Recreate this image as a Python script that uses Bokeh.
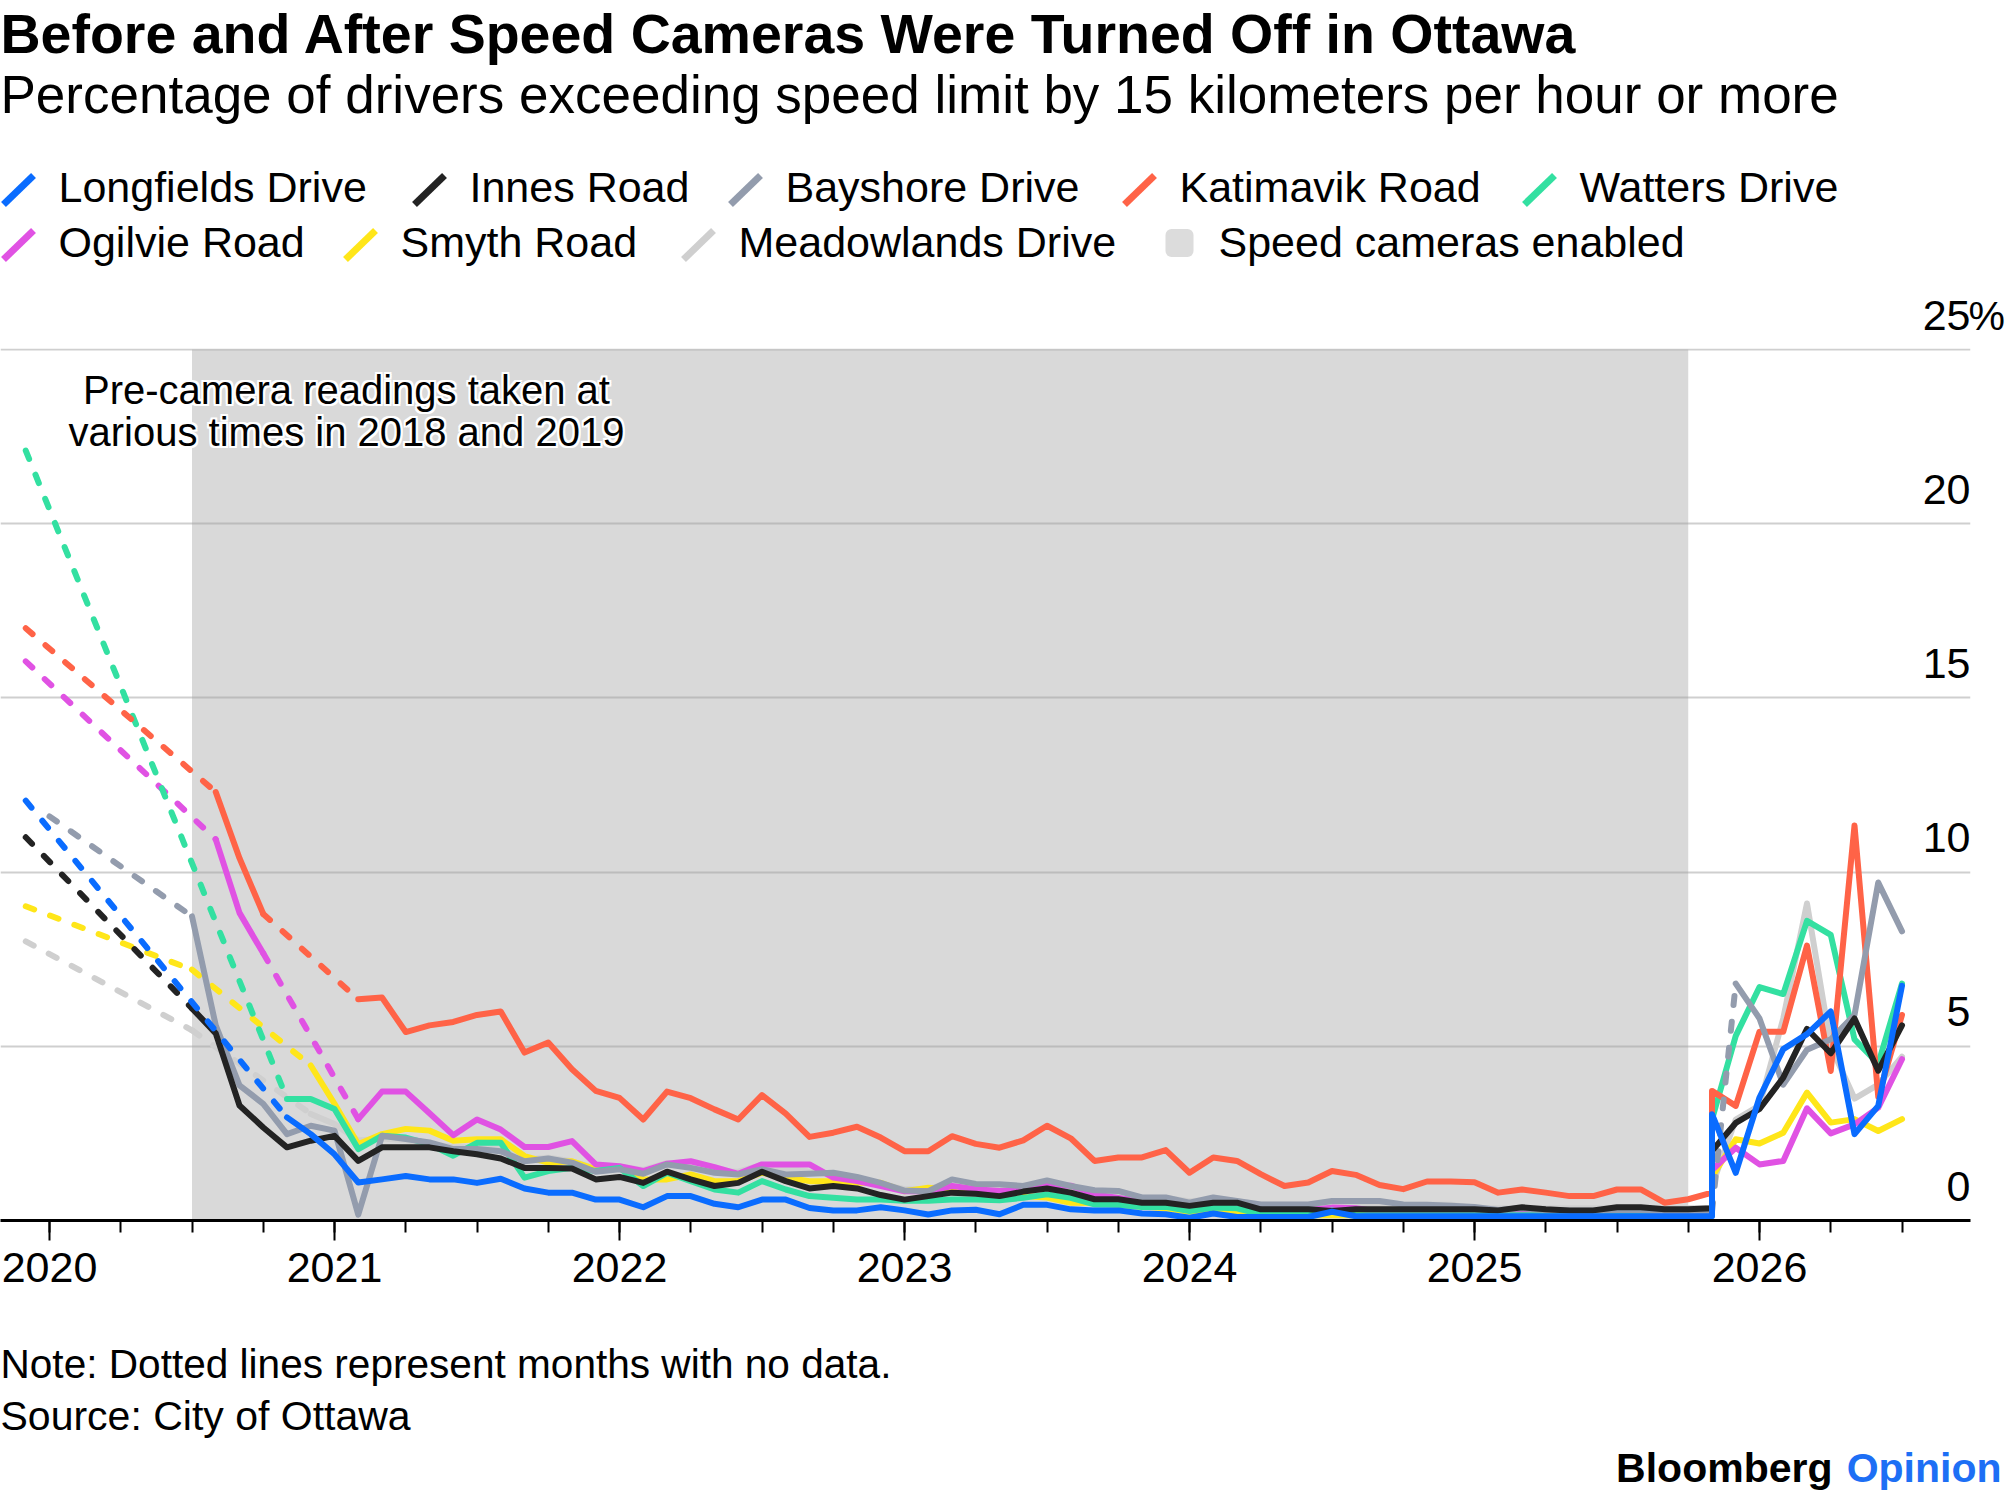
import math
from bokeh.plotting import figure
from bokeh.models import Range1d, FixedTicker, NumeralTickFormatter, LabelSet, ColumnDataSource, Rect
from bokeh.layouts import column
from bokeh.core.properties import value
from bokeh.embed import file_html
from bokeh.resources import INLINE

N = None
# ---------------- data ----------------
# monthly readings, Dec 2019 .. Nov 2025 (camera period incl. pre-camera reading at start)
months_before = ["2019-12"] + [f"{y}-{m:02d}" for y in range(2020, 2025) for m in range(1, 13)] + [f"2025-{m:02d}" for m in range(1, 12)]
# after cameras were switched off, Nov 2025 .. Jul 2026
months_after = [f"2025-{m:02d}" for m in (11, 12)] + [f"2026-{m:02d}" for m in range(1, 8)]
camera_period = ["2020-07", "2025-10"]

longfields_before = [12.05,
    N, N, N, N, N, N, N, N, N, N, 2.96, 2.48,
    1.90, 1.09, 1.18, 1.28, 1.18, 1.18, 1.08, 1.20, 0.92, 0.80, 0.80, 0.60,
    0.60, 0.38, 0.70, 0.70, 0.48, 0.38, 0.60, 0.60, 0.36, 0.29, 0.29, 0.38,
    0.29, 0.17, 0.29, 0.31, 0.18, 0.45, 0.45, 0.32, 0.29, 0.29, 0.20, 0.18,
    0.08, 0.20, 0.10, 0.10, 0.10, 0.10, 0.25, 0.12, 0.12, 0.12, 0.12, 0.12,
    0.12, 0.12, 0.12, 0.12, 0.12, 0.12, 0.12, 0.12, 0.12, 0.12, 0.12]
innes_before = [11.0,
    N, N, N, N, N, N, 6.09, 5.37, 3.30, 2.67, 2.10, 2.29,
    2.43, 1.71, 2.10, 2.10, 2.10, 1.99, 1.90, 1.78, 1.51, 1.51, 1.49, 1.18,
    1.25, 1.08, 1.40, 1.18, 0.99, 1.08, 1.40, 1.13, 0.92, 0.99, 0.92, 0.73,
    0.60, 0.70, 0.80, 0.77, 0.70, 0.83, 0.92, 0.80, 0.61, 0.61, 0.51, 0.51,
    0.42, 0.51, 0.51, 0.32, 0.32, 0.32, 0.27, 0.32, 0.32, 0.32, 0.32, 0.32,
    0.32, 0.29, 0.38, 0.32, 0.29, 0.29, 0.38, 0.38, 0.32, 0.32, 0.35]
bayshore_before = [N,
    11.6, N, N, N, N, N, 8.73, 5.60, 3.88, 3.35, 2.48, 2.72,
    2.58, 0.17, 2.43, 2.34, 2.24, 2.05, 2.05, 1.99, 1.70, 1.78, 1.66, 1.40,
    1.47, 1.34, 1.61, 1.51, 1.37, 1.32, 1.47, 1.32, 1.34, 1.37, 1.25, 1.08,
    0.86, 0.84, 1.18, 1.05, 1.04, 0.99, 1.15, 0.99, 0.87, 0.85, 0.66, 0.66,
    0.51, 0.66, 0.56, 0.46, 0.46, 0.46, 0.56, 0.56, 0.56, 0.46, 0.45, 0.42,
    0.39, 0.30, 0.35, 0.30, 0.28, 0.28, 0.30, 0.30, 0.25, 0.25, 0.25]
katimavik_before = [17.0,
    N, N, N, N, N, N, N, 12.3, 10.4, 8.8, N, N,
    N, 6.35, 6.40, 5.41, 5.60, 5.70, 5.90, 6.00, 4.82, 5.11, 4.34, 3.72,
    3.52, 2.90, 3.70, 3.51, 3.19, 2.90, 3.60, 3.07, 2.40, 2.52, 2.69, 2.38,
    1.99, 1.99, 2.42, 2.20, 2.09, 2.30, 2.72, 2.36, 1.71, 1.81, 1.81, 2.02,
    1.37, 1.81, 1.71, 1.33, 0.99, 1.09, 1.42, 1.31, 1.02, 0.90, 1.12, 1.12,
    1.10, 0.80, 0.89, 0.80, 0.70, 0.70, 0.89, 0.89, 0.51, 0.61, 0.80]
watters_before = [22.1,
    N, N, N, N, N, N, N, N, N, N, 3.49, 3.49,
    3.20, 2.05, 2.43, 2.38, 2.19, 1.86, 2.23, 2.23, 1.23, 1.42, 1.51, 1.42,
    1.51, 0.99, 1.37, 1.13, 0.89, 0.80, 1.13, 0.89, 0.70, 0.65, 0.60, 0.60,
    0.57, 0.57, 0.60, 0.60, 0.58, 0.65, 0.75, 0.65, 0.46, 0.45, 0.39, 0.39,
    0.27, 0.37, 0.35, 0.18, 0.18, 0.18, 0.29, 0.15, 0.15, 0.15, 0.15, 0.15,
    0.15, 0.15, 0.15, 0.15, 0.15, 0.15, 0.15, 0.15, 0.15, 0.15, 0.15]
ogilvie_before = [16.05,
    N, N, N, N, N, N, N, 10.94, 8.83, 7.67, N, N,
    N, 2.91, 3.70, 3.70, 3.08, 2.45, 2.90, 2.61, 2.11, 2.11, 2.28, 1.61,
    1.56, 1.42, 1.63, 1.70, 1.53, 1.34, 1.61, 1.61, 1.61, 1.23, 1.13, 0.99,
    0.84, 0.84, 0.99, 0.90, 0.85, 0.88, 1.00, 1.00, 0.75, 0.65, 0.55, 0.50,
    0.40, 0.50, 0.45, 0.30, 0.30, 0.30, 0.37, 0.35, 0.25, 0.25, 0.25, 0.25,
    0.25, 0.25, 0.25, 0.25, 0.25, 0.25, 0.25, 0.25, 0.25, 0.25, 0.25]
smyth_before = [9.02,
    N, N, N, N, N, N, 7.2, N, N, N, N, 4.45,
    3.35, 2.19, 2.48, 2.63, 2.58, 2.29, 2.33, 2.33, 1.85, 1.66, 1.70, 1.47,
    1.51, 1.18, 1.18, 1.32, 1.13, 1.13, 1.37, 1.23, 1.13, 1.13, 1.08, 1.08,
    0.84, 0.94, 0.89, 0.84, 0.75, 0.70, 0.66, 0.51, 0.50, 0.45, 0.40, 0.35,
    0.25, 0.30, 0.20, 0.15, 0.15, 0.15, 0.15, 0.15, 0.15, 0.15, 0.15, 0.15,
    0.15, 0.15, 0.15, 0.15, 0.15, 0.15, 0.15, 0.15, 0.15, 0.15, 0.15]
meadowlands_before = [8.01,
    N, N, N, N, N, N, 5.46, N, N, N, N, 3.06,
    2.77, 2.30, 2.35, 2.30, 2.20, 2.10, 2.10, 2.05, 1.75, 1.80, 1.70, 1.50,
    1.55, 1.45, 1.65, 1.55, 1.40, 1.40, 1.60, 1.50, 1.40, 1.30, 1.20, 1.05,
    0.90, 0.90, 1.10, 1.00, 0.95, 0.95, 1.10, 0.95, 0.80, 0.80, 0.65, 0.65,
    0.55, 0.60, 0.55, 0.45, 0.45, 0.45, 0.45, 0.45, 0.45, 0.45, 0.45, 0.45,
    0.35, 0.35, 0.35, 0.35, 0.35, 0.35, 0.35, 0.35, 0.35, 0.35, 0.35]

longfields_after = [3.05, 1.37, 3.53, 4.92, 5.35, 6.00, 2.48, 3.29, 6.74]
innes_after = [2.00, 2.80, 3.20, 4.10, 5.50, 4.80, 5.80, 4.30, 5.60]
bayshore_after = [N, 6.80, 5.80, 3.90, 4.90, 5.20, 5.90, 9.70, 8.30]
katimavik_after = [3.72, 3.29, 5.42, 5.42, 7.89, 4.29, 11.34, 3.55, 5.90]
watters_after = [2.90, 5.30, 6.70, 6.50, 8.60, 8.20, 5.20, 4.50, 6.80]
ogilvie_after = [1.45, 2.09, 1.61, 1.71, 3.22, 2.50, 2.76, 3.24, 4.63]
smyth_after = [1.25, 2.33, 2.21, 2.52, 3.67, 2.81, 2.91, 2.57, 2.91]
meadowlands_after = [1.00, 2.90, 3.30, 5.80, 9.10, 5.00, 3.50, 3.90, 4.70]

series_names = ["Longfields Drive", "Innes Road", "Bayshore Drive", "Katimavik Road",
                "Watters Drive", "Ogilvie Road", "Smyth Road", "Meadowlands Drive"]
series_before = [longfields_before, innes_before, bayshore_before, katimavik_before,
                 watters_before, ogilvie_before, smyth_before, meadowlands_before]
series_after = [longfields_after, innes_after, bayshore_after, katimavik_after,
                watters_after, ogilvie_after, smyth_after, meadowlands_after]
series_colors = ["#0a6cff", "#232323", "#939cad", "#ff6347", "#33e0a1", "#e052e3", "#ffe619", "#cfcfcf"]

y_ticks = [0, 5, 10, 15, 20, 25]
y_tick_labels = ["0", "5", "10", "15", "20", "25"]
year_ticks = [2020, 2021, 2022, 2023, 2024, 2025, 2026]

TITLE = "Before and After Speed Cameras Were Turned Off in Ottawa"
SUBTITLE = "Percentage of drivers exceeding speed limit by 15 kilometers per hour or more"
NOTE = "Note: Dotted lines represent months with no data."
SOURCE = "Source: City of Ottawa"
ANNOT = ["Pre-camera readings taken at", "various times in 2018 and 2019"]

# ---------------- helpers ----------------
FONT = "Liberation Sans"
W = 2005
HDR_H = 348          # header ends where the 25% gridline sits
CH_H = 972
FT_H = 178
PX_PER_UNIT = 872 / 25.03


def mx(s):
    y, m = s.split("-")
    return int(y) + (int(m) - 1) / 12.0


def blank(height, y0):
    f = figure(frame_width=W, frame_height=height, x_range=Range1d(0, W),
               y_range=Range1d(y0 + height, y0),
               toolbar_location=None, output_backend="svg",
               min_border=0, min_border_left=0, min_border_right=0,
               min_border_top=0, min_border_bottom=0,
               x_axis_location=None, y_axis_location=None, outline_line_color=None,
               background_fill_color="white", border_fill_color="white")
    f.grid.visible = False
    return f


def lab(f, x, y, s, size, color="#000000", bold=False, align="left", xo=0, yo=0):
    src = ColumnDataSource(dict(x=[x], y=[y], t=[s]))
    f.add_layout(LabelSet(x="x", y="y", text="t", source=src, text_font=value(FONT),
                          text_font_size=value(f"{size}px"),
                          text_font_style="bold" if bold else "normal", text_color=color,
                          text_baseline="alphabetic", text_align=align,
                          x_offset=xo, y_offset=yo))


# ---------------- header ----------------
hdr = blank(HDR_H, 0)
lab(hdr, 0, 52, TITLE, 55.5, bold=True)
lab(hdr, 0, 112, SUBTITLE, 53)

legend_pos = [(58, 201), (469, 201), (785, 201), (1179, 201), (1579, 201),
              (58, 256), (400, 256), (738, 256)]
for (tx, by), name, col in zip(legend_pos, series_names, series_colors):
    hdr.segment(x0=[tx - 55], y0=[by + 3], x1=[tx - 25], y1=[by - 26],
                line_color=col, line_width=7, line_cap="butt")
    lab(hdr, tx, by, name, 43)
rect_kw = {}
if "border_radius" in Rect.properties():
    rect_kw["border_radius"] = 6
hdr.rect(x=[1179], y=[242.5], width=28, height=28, fill_color="#dcdcdc",
         line_color=None, **rect_kw)
lab(hdr, 1218, 256, "Speed cameras enabled", 43)

# top tick label "25%" (sits above the chart frame)
X_AXIS_END = 1970
top_base = HDR_H + 1 - 20
lab(hdr, X_AXIS_END, top_base, y_tick_labels[-1], 43, align="right")
lab(hdr, X_AXIS_END - 2, top_base, "%", 41, align="left")

# ---------------- chart ----------------
X0 = 2020 - 49 / 285.0
X1 = 2020 + (X_AXIS_END - 49) / 285.0
p = figure(width=W, height=CH_H, x_range=Range1d(X0, X1), y_range=Range1d(0, 25.03),
           toolbar_location=None, output_backend="svg",
           min_border_left=0, min_border_right=W - X_AXIS_END, min_border_top=0, min_border_bottom=100,
           y_axis_location=None, outline_line_color=None,
           background_fill_color="white", border_fill_color="white")
p.grid.visible = False

# speed cameras enabled band
p.quad(left=[mx(camera_period[0])], right=[mx(camera_period[1])], bottom=[0], top=[25],
       fill_color="#d9d9d9", line_color=None)
# horizontal gridlines
p.hspan(y=y_ticks[1:], line_color="#a0a0a0", line_alpha=0.5, line_width=2)

# series (first legend entry on top)
LW = 6
for name, before, after, col in reversed(list(zip(series_names, series_before, series_after, series_colors))):
    xs = [mx(m) for m in months_before] + [mx(m) for m in months_after]
    ys = list(before) + list(after)
    solid_y = [float("nan") if v is None else v for v in ys]
    dxs, dys = [], []
    last = None
    gap = False
    for x, v in zip(xs, ys):
        if v is None:
            gap = True
            continue
        if gap and last is not None:
            dxs.append([last[0], x])
            dys.append([last[1], v])
        last = (x, v)
        gap = False
    if dxs:
        p.multi_line(xs=dxs, ys=dys, line_color=col, line_width=LW, line_dash="9 17",
                     line_cap="round")
    p.line(x=xs, y=solid_y, line_color=col, line_width=LW, line_join="round", line_cap="round")

# annotation with white halo
ax = 2020 + (346 - 49) / 285.0
for line, yv in zip(ANNOT, [23.44, 22.23]):
    for ox, oy in [(-2, 0), (2, 0), (0, -2), (0, 2), (-2, -2), (2, 2), (-2, 2), (2, -2)]:
        lab(p, ax, yv, line, 40, color="white", align="center", xo=ox, yo=oy)
    lab(p, ax, yv, line, 40, align="center")

# y tick labels (above the gridlines, right aligned)
lab_up = 20 / PX_PER_UNIT
src = ColumnDataSource(dict(x=[X1] * (len(y_ticks) - 1), y=[v + lab_up for v in y_ticks[:-1]],
                            t=y_tick_labels[:-1]))
p.add_layout(LabelSet(x="x", y="y", text="t", source=src, text_align="right",
                      text_baseline="alphabetic", text_font=value(FONT), text_font_size="43px",
                      text_color="#000000"))

ax_ = p.xaxis[0]
ax_.ticker = FixedTicker(ticks=year_ticks,
                         minor_ticks=[2019.75 + 0.25 * i for i in range(29)])
ax_.formatter = NumeralTickFormatter(format="0")
ax_.axis_line_color = "#000000"
ax_.axis_line_width = 3
ax_.major_tick_line_color = "#000000"
ax_.major_tick_line_width = 2
ax_.major_tick_in = 0
ax_.major_tick_out = 20
ax_.minor_tick_line_color = "#000000"
ax_.minor_tick_line_width = 2
ax_.minor_tick_in = 0
ax_.minor_tick_out = 12
ax_.major_label_standoff = 12
ax_.major_label_text_font = FONT
ax_.major_label_text_font_size = "43px"
ax_.major_label_text_color = "#000000"

# ---------------- footer ----------------
ftr = blank(FT_H, HDR_H + CH_H)
lab(ftr, 0, 1377, NOTE, 40.6)
lab(ftr, 0, 1429, SOURCE, 41)
lab(ftr, 1832, 1481, "Bloomberg", 41, bold=True, align="right")
lab(ftr, 2001, 1481, "Opinion", 41, color="#1d6ff5", bold=True, align="right")

layout = column(hdr, p, ftr, spacing=0)

open("out.html", "w").write(file_html(layout, INLINE))
